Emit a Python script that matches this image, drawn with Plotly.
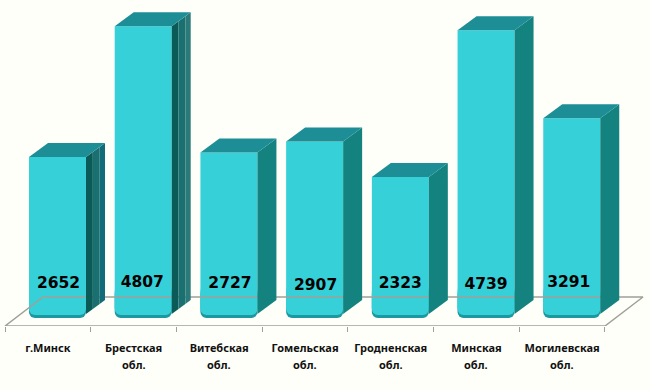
import plotly.graph_objects as go

regions = ["г.Минск", "Брестская", "Витебская", "Гомельская",
           "Гродненская", "Минская", "Могилевская"]
region_suffix = ["", "обл.", "обл.", "обл.", "обл.", "обл.", "обл."]
values = [2652, 4807, 2727, 2907, 2323, 4739, 3291]

# pixel-scale constants for the axes
PX_X = 85.71
PX_Y = 0.0607
BG = "#FFFFF9"
FRONT = "#36D0D8"
EDGE = "#1B98A0"
TOP = "#1E8E96"
FLOOR = "#A0A098"
LABEL_FONT = dict(family="Noto Sans", size=11, color="#111111", weight="bold")
bar_left = 24 / PX_X
bar_w = 57 / PX_X
dx = 19 / PX_X
dy = 14 / PX_Y
side_base = 4 / PX_Y
side_bands = [
    [(0, .36, "#0A5B58"), (.36, .72, "#1A7070"), (.72, 1, "#116B78")],
    [(0, .36, "#0A5B58"), (.36, .72, "#1A7070"), (.72, 1, "#2A7A7A")],
] + [[(0, 1, "#14837F")]] * 5
label_nudge = [0, 1, 0, -2, 0, -1, 1]
label_shift = [1, -1, 1, 1, 0, 0, -3]

fig = go.Figure()


def poly(xs, ys, color):
    fig.add_trace(go.Scatter(x=xs, y=ys, mode="lines", fill="toself", fillcolor=color,
                             line=dict(width=0, color=color), hoverinfo="skip", cliponaxis=False))


# floor
back = 21 / PX_Y
front = -8 / PX_Y
fig.add_trace(go.Scatter(
    x=[0, 7, 7 + 38 / PX_X, 38 / PX_X, 0], y=[front, front, back, back, front],
    mode="lines", line=dict(color=FLOOR, width=1.5), hoverinfo="skip", cliponaxis=False))

# side and top faces
for i, v in enumerate(values):
    r = i + bar_left + bar_w
    for a, b, col in side_bands[i]:
        poly([r + a * dx, r + b * dx, r + b * dx, r + a * dx, r + a * dx],
             [v + a * dy, v + b * dy, side_base + b * dy, side_base + a * dy, v + a * dy], col)
    l = i + bar_left
    poly([l, r, r + dx, l + dx, l], [v, v, v + dy, v + dy, v], TOP)

# front faces: rounded foot pieces, then a square column to the value
x = list(range(7))
foot = 30 / PX_Y
lift = 3 / PX_Y
fig.add_trace(go.Bar(x=x, y=[foot] * 7, base=0, width=bar_w, offset=bar_left,
                     marker=dict(color=EDGE, line_width=0, cornerradius=6), hoverinfo="skip"))
fig.add_trace(go.Bar(x=x, y=[foot] * 7, base=lift, width=bar_w, offset=bar_left,
                     marker=dict(color=FRONT, line_width=0, cornerradius=6), hoverinfo="skip"))
sq = 10 / PX_Y
fig.add_trace(go.Bar(x=x, y=[v - sq for v in values], base=sq, width=bar_w, offset=bar_left,
                     marker=dict(color=FRONT, line_width=0), hoverinfo="skip"))

# value labels
fig.add_trace(go.Scatter(
    x=[i + bar_left + bar_w / 2 + s / PX_X for i, s in enumerate(label_shift)],
    y=[(318 - 284 + n) / PX_Y for n in label_nudge],
    mode="text", text=[str(v) for v in values],
    textfont=dict(family="DejaVu Sans", size=15.5, color="#000000", weight="bold"),
    hoverinfo="skip"))

# second line of the category labels
annotations = [
    dict(x=i + .5, y=0, xref="x", yref="paper", text=s, showarrow=False, yshift=-38,
         yanchor="middle", font=LABEL_FONT)
    for i, s in enumerate(region_suffix) if s
]

fig.update_layout(
    width=650, height=390, margin=dict(l=0, r=0, t=0, b=64), autosize=False,
    paper_bgcolor=BG, plot_bgcolor=BG, showlegend=False, barmode="overlay",
    annotations=annotations,
    xaxis=dict(range=[-5 / PX_X, 645 / PX_X], tickmode="array",
               tickvals=[i + .5 for i in range(7)], ticktext=regions, ticks="", showgrid=False,
               zeroline=False, showline=False, ticklabelstandoff=14,
               tickfont=LABEL_FONT,
               minor=dict(tickvals=list(range(8)), ticks="outside", ticklen=5, tickcolor=FLOOR,
                          tickwidth=1, showgrid=False)),
    yaxis=dict(range=[-8 / PX_Y, 318 / PX_Y], visible=False),
)
fig.write_html("out.html", config=dict(displayModeBar=False),
               post_script="document.body.style.margin='0';document.body.style.background='#FFFFF9';")
